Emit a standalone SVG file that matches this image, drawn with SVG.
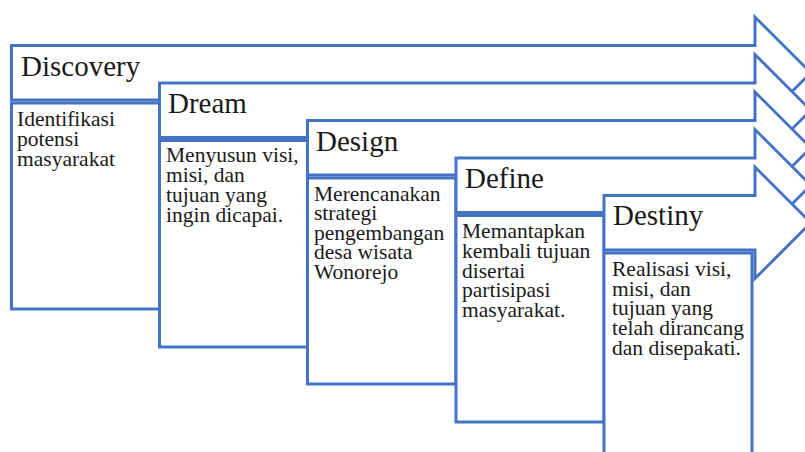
<svg xmlns="http://www.w3.org/2000/svg" width="805" height="452" viewBox="0 0 805 452">
<style>
.arrow{fill:#fff;stroke:#4472C4;stroke-width:3;stroke-linejoin:miter}
.body{fill:#fff;stroke:#4472C4;stroke-width:3}
.hdr{font-size:29px;fill:#1a1a1a}
.txt{font-size:21.5px;fill:#1a1a1a}
</style>
<rect width="805" height="452" fill="#fff"/>
<g id="discovery">
<path class="arrow" d="M11.5,45.5 H755 V17 L810.75,72.75 L755,128.5 V100 H11.5 Z"/>
<rect class="body" x="11.5" y="103" width="148" height="206"/>
<text class="hdr" font-family="Liberation Serif, DejaVu Serif, serif" x="21" y="76">Discovery</text>
<text class="txt" font-family="Liberation Serif, DejaVu Serif, serif" x="17" y="126"><tspan x="17">Identifikasi</tspan><tspan x="17" y="146">potensi</tspan><tspan x="17" y="166">masyarakat</tspan></text>
</g>
<g id="dream">
<path class="arrow" d="M159.5,83 H755 V54.5 L810.75,110.25 L755,166 V137.5 H159.5 Z"/>
<rect class="body" x="159.5" y="140.5" width="148" height="206.5"/>
<text class="hdr" font-family="Liberation Serif, DejaVu Serif, serif" x="168" y="113">Dream</text>
<text class="txt" font-family="Liberation Serif, DejaVu Serif, serif" x="166" y="162"><tspan x="166">Menyusun visi,</tspan><tspan x="166" y="182">misi, dan</tspan><tspan x="166" y="202">tujuan yang</tspan><tspan x="166" y="222">ingin dicapai.</tspan></text>
</g>
<g id="design">
<path class="arrow" d="M307.5,120.5 H755 V92 L810.75,147.75 L755,203.5 V175 H307.5 Z"/>
<rect class="body" x="307.5" y="178" width="148.5" height="206"/>
<text class="hdr" font-family="Liberation Serif, DejaVu Serif, serif" x="316" y="151">Design</text>
<text class="txt" font-family="Liberation Serif, DejaVu Serif, serif" x="314" y="201"><tspan x="314">Merencanakan</tspan><tspan x="314" y="220">strategi</tspan><tspan x="314" y="240">pengembangan</tspan><tspan x="314" y="259">desa wisata</tspan><tspan x="314" y="279">Wonorejo</tspan></text>
</g>
<g id="define">
<path class="arrow" d="M456,158 H755 V129.5 L810.75,185.25 L755,241 V212.5 H456 Z"/>
<rect class="body" x="456" y="215.5" width="148" height="206.5"/>
<text class="hdr" font-family="Liberation Serif, DejaVu Serif, serif" x="465" y="188">Define</text>
<text class="txt" font-family="Liberation Serif, DejaVu Serif, serif" x="462" y="238"><tspan x="462">Memantapkan</tspan><tspan x="462" y="258">kembali tujuan</tspan><tspan x="462" y="278">disertai</tspan><tspan x="462" y="297">partisipasi</tspan><tspan x="462" y="317">masyarakat.</tspan></text>
</g>
<g id="destiny">
<path class="arrow" d="M604,195.5 H755 V167 L810.75,222.75 L755,278.5 V250 H604 Z"/>
<rect class="body" x="604" y="253" width="148" height="206"/>
<text class="hdr" font-family="Liberation Serif, DejaVu Serif, serif" x="613" y="225">Destiny</text>
<text class="txt" font-family="Liberation Serif, DejaVu Serif, serif" x="612" y="276"><tspan x="612">Realisasi visi,</tspan><tspan x="612" y="296">misi, dan</tspan><tspan x="612" y="315">tujuan yang</tspan><tspan x="612" y="335">telah dirancang</tspan><tspan x="612" y="355">dan disepakati.</tspan></text>
</g>
<g id="connectors"/>
</svg>
